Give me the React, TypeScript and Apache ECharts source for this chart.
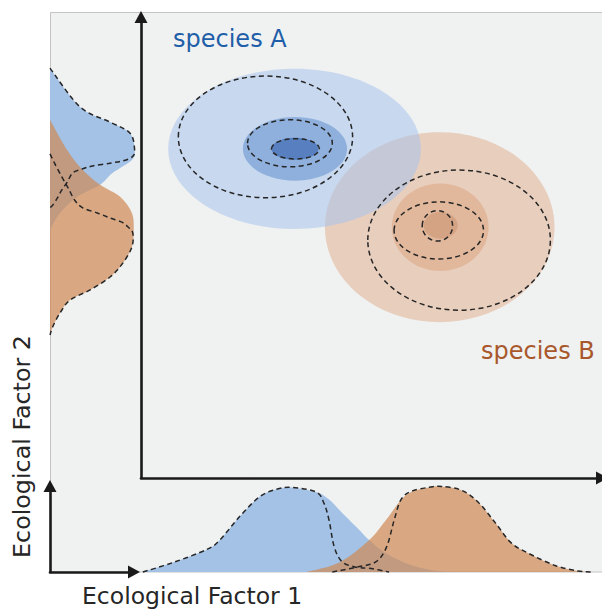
import React, { useEffect, useRef } from 'react';
import * as echarts from 'echarts';

// ---- Joint niches (ellipses): [centre F1, centre F2, half-width F1, half-height F2]
const speciesBFills = [
  [6.48, 5.44, 2.49, 2.06],
  [6.49, 5.44, 1.05, 0.95],
  [6.5, 5.48, 0.37, 0.29],
];
const speciesAFills = [
  [3.33, 7.14, 2.74, 1.74],
  [3.34, 7.14, 1.13, 0.69],
  [3.34, 7.14, 0.51, 0.24],
];
const speciesADashed = [
  [2.7, 7.4, 1.89, 1.32],
  [3.23, 7.26, 0.92, 0.51],
  [3.35, 7.14, 0.52, 0.22],
];
const speciesBDashed = [
  [6.9, 5.16, 1.98, 1.52],
  [6.46, 5.37, 0.97, 0.62],
  [6.43, 5.47, 0.33, 0.33],
];
const speciesBFillColors = ['#e8cebd', '#e2b89c', '#d4a384'];
const speciesAFillColors = ['rgba(167,196,236,0.55)', '#8fb0dc', '#5880c0'];

// ---- Marginal along Ecological Factor 1: [factor 1, density]
const blueBottom = [
  [0.04, 0], [0.69, 0.1], [1.43, 0.24], [1.71, 0.34], [2.14, 0.59], [2.57, 0.8],
  [2.94, 0.88], [3.28, 0.9], [3.8, 0.85], [4.08, 0.77], [4.36, 0.63], [4.73, 0.45],
  [4.95, 0.34], [5.31, 0.2], [5.88, 0.07], [6.46, 0.01], [6.78, 0],
];
const blueBottomDashed = [
  [0.04, 0], [0.69, 0.1], [1.43, 0.24], [1.71, 0.34], [2.14, 0.59], [2.57, 0.8],
  [2.94, 0.88], [3.28, 0.9], [3.8, 0.85], [3.97, 0.73], [4.08, 0.55], [4.19, 0.27],
  [4.36, 0.11], [4.67, 0.05], [4.95, 0.04], [5.38, 0],
];
const orangeBottom = [
  [3.59, 0], [4.3, 0.1], [4.95, 0.34], [5.31, 0.55], [5.75, 0.82], [6.24, 0.9],
  [6.52, 0.91], [6.95, 0.87], [7.32, 0.74], [7.69, 0.52], [8.03, 0.31], [8.4, 0.2],
  [8.98, 0.07], [9.48, 0.01], [9.81, 0],
];
const orangeBottomDashed = [
  [4.15, 0], [4.67, 0.05], [5.1, 0.11], [5.33, 0.27], [5.49, 0.55], [5.64, 0.77],
  [5.87, 0.86], [6.24, 0.9], [6.52, 0.91], [6.95, 0.87], [7.32, 0.74], [7.69, 0.52],
  [8.03, 0.31], [8.4, 0.2], [8.98, 0.07], [9.48, 0.01], [9.81, 0],
];

// ---- Marginal along Ecological Factor 2: [density, factor 2]
const blueLeft = [
  [0, 8.89], [0.33, 8.05], [0.66, 7.72], [0.88, 7.48], [0.93, 7.11], [0.9, 6.9],
  [0.69, 6.62], [0.55, 6.36], [0.3, 6.1], [0.11, 5.75], [0, 5.38],
];
const blueLeftDashed = [
  [0, 8.89], [0.33, 8.05], [0.66, 7.72], [0.88, 7.48], [0.93, 7.11], [0.9, 6.96],
  [0.8, 6.88], [0.66, 6.83], [0.47, 6.77], [0.35, 6.7], [0.25, 6.62], [0.19, 6.42],
  [0.13, 6.25], [0.08, 6.07], [0.03, 5.92], [0, 5.86],
];
const orangeLeft = [
  [0, 7.77], [0.19, 7.11], [0.36, 6.68], [0.55, 6.36], [0.77, 6.1], [0.9, 5.75],
  [0.92, 5.38], [0.9, 5.01], [0.8, 4.66], [0.66, 4.36], [0.44, 4.08], [0.22, 3.86],
  [0.11, 3.58], [0.03, 3.28], [0, 3.1],
];
const orangeLeftDashed = [
  [0, 7.03], [0.05, 6.83], [0.13, 6.53], [0.2, 6.29], [0.27, 6.03], [0.36, 5.86],
  [0.52, 5.75], [0.66, 5.64], [0.79, 5.55], [0.86, 5.44], [0.91, 5.31], [0.9, 5.01],
  [0.8, 4.66], [0.66, 4.36], [0.44, 4.08], [0.22, 3.86], [0.11, 3.58], [0.03, 3.28], [0, 3.1],
];

const labels = {
  a: 'species A',
  b: 'species B',
  x: 'Ecological Factor 1',
  y: 'Ecological Factor 2',
};

const FONT = '"DejaVu Sans", "Noto Sans", sans-serif';
const DASH_COLOR = '#262626';
const AXIS_COLOR = '#1a1a1a';

function catmull(p: number[][]): string {
  let d = `M${p[0][0]},${p[0][1]}`;
  for (let i = 0; i < p.length - 1; i++) {
    const p0 = p[i - 1] || p[i];
    const p1 = p[i];
    const p2 = p[i + 1];
    const p3 = p[i + 2] || p[i + 1];
    const t = 1 / 6;
    const c1x = p1[0] + (p2[0] - p0[0]) * t;
    const c1y = p1[1] + (p2[1] - p0[1]) * t;
    const c2x = p2[0] - (p3[0] - p1[0]) * t;
    const c2y = p2[1] - (p3[1] - p1[1]) * t;
    d += ` C${c1x},${c1y} ${c2x},${c2y} ${p2[0]},${p2[1]}`;
  }
  return d;
}

function curveSeries(points: number[][], axisIdx: number, fill: string | null, stroke: string | null) {
  return {
    type: 'custom',
    xAxisIndex: axisIdx,
    yAxisIndex: axisIdx,
    data: points,
    silent: true,
    encode: { x: 0, y: 1 },
    renderItem: (params: any, api: any) => {
      if (params.dataIndex !== 0) return { type: 'group', children: [] };
      const px = points.map((p) => api.coord(p));
      const d = catmull(px) + (fill ? ' Z' : '');
      return {
        type: 'path',
        shape: { pathData: d },
        style: fill
          ? { fill, stroke: null }
          : { fill: null, stroke, lineWidth: 1.5, lineDash: [5, 3.5] },
      };
    },
  };
}

function ellipseSeries(data: number[][], colors: string[] | null) {
  return {
    type: 'custom',
    xAxisIndex: 0,
    yAxisIndex: 0,
    data,
    silent: true,
    encode: { x: 0, y: 1 },
    renderItem: (params: any, api: any) => {
      const c = api.coord([api.value(0), api.value(1)]);
      const s = api.size([api.value(2), api.value(3)]);
      return {
        type: 'ellipse',
        shape: { cx: c[0], cy: c[1], rx: s[0], ry: s[1] },
        style: colors
          ? { fill: colors[params.dataIndex], stroke: null }
          : { fill: null, stroke: DASH_COLOR, lineWidth: 1.5, lineDash: [5, 3.5] },
      };
    },
  };
}

const hidden = { show: false };
const arrowAxis = (min: number, max: number, gridIndex: number) => ({
  type: 'value',
  gridIndex,
  min,
  max,
  axisLine: {
    show: true,
    onZero: false,
    lineStyle: { color: AXIS_COLOR, width: 2.6 },
    symbol: ['none', 'triangle'],
    symbolSize: [13, 12],
  },
  axisTick: hidden,
  axisLabel: hidden,
  splitLine: hidden,
});
const hiddenAxis = (min: number, max: number, gridIndex: number) => ({
  type: 'value',
  gridIndex,
  min,
  max,
  show: false,
});

export default function App() {
  const ref = useRef<HTMLDivElement>(null);
  useEffect(() => {
    if (!ref.current) return;
    const chart = echarts.init(ref.current, null, { renderer: 'svg' });
    chart.setOption({
      animation: false,
      backgroundColor: '#ffffff',
      grid: [
        { left: 141, top: 17, width: 463, height: 461 },
        { left: 141, top: 478, width: 463, height: 94 },
        { left: 50, top: 17, width: 91, height: 461 },
        { left: 50, top: 486, width: 84, height: 86 },
      ],
      xAxis: [arrowAxis(0, 10, 0), hiddenAxis(0, 10, 1), hiddenAxis(0, 1, 2), arrowAxis(0, 1, 3)],
      yAxis: [arrowAxis(0, 10, 0), hiddenAxis(0, 1, 1), hiddenAxis(0, 10, 2), arrowAxis(0, 1, 3)],
      graphic: [
        {
          type: 'rect',
          z: -10,
          silent: true,
          shape: { x: 50.5, y: 12.5, width: 600, height: 559.5 },
          style: { fill: '#f0f1f1', stroke: '#c4c4c4', lineWidth: 1 },
        },
        {
          type: 'text', z: 100, x: 173, y: 39,
          style: { text: labels.a, font: `24px ${FONT}`, fill: '#1f5ea8', align: 'left', verticalAlign: 'middle', textAlign: 'left', textVerticalAlign: 'middle' },
        },
        {
          type: 'text', z: 100, x: 481, y: 351,
          style: { text: labels.b, font: `24px ${FONT}`, fill: '#a8582b', align: 'left', verticalAlign: 'middle', textAlign: 'left', textVerticalAlign: 'middle' },
        },
        {
          type: 'text', z: 100, x: 82, y: 596,
          style: { text: labels.x, font: `23.5px ${FONT}`, fill: '#262626', align: 'left', verticalAlign: 'middle', textAlign: 'left', textVerticalAlign: 'middle' },
        },
        {
          type: 'text', z: 100, x: 22, y: 446.5, rotation: Math.PI / 2,
          style: { text: labels.y, font: `23.8px ${FONT}`, fill: '#262626', align: 'center', verticalAlign: 'middle', textAlign: 'center', textVerticalAlign: 'middle' },
        },
      ],
      series: [
        ellipseSeries(speciesBFills, speciesBFillColors),
        ellipseSeries(speciesAFills, speciesAFillColors),
        ellipseSeries(speciesADashed, null),
        ellipseSeries(speciesBDashed, null),
        curveSeries(blueBottom, 1, '#a3c2e6', null),
        curveSeries(orangeBottom, 1, 'rgba(207,137,84,0.7)', null),
        curveSeries(blueBottomDashed, 1, null, DASH_COLOR),
        curveSeries(orangeBottomDashed, 1, null, DASH_COLOR),
        curveSeries(blueLeft, 2, '#a3c2e6', null),
        curveSeries(orangeLeft, 2, 'rgba(207,137,84,0.7)', null),
        curveSeries(blueLeftDashed, 2, null, DASH_COLOR),
        curveSeries(orangeLeftDashed, 2, null, DASH_COLOR),
      ],
    });
    return () => chart.dispose();
  }, []);
  return <div ref={ref} style={{ position: 'fixed', left: 0, top: 0, width: 602, height: 609 }} />;
}
